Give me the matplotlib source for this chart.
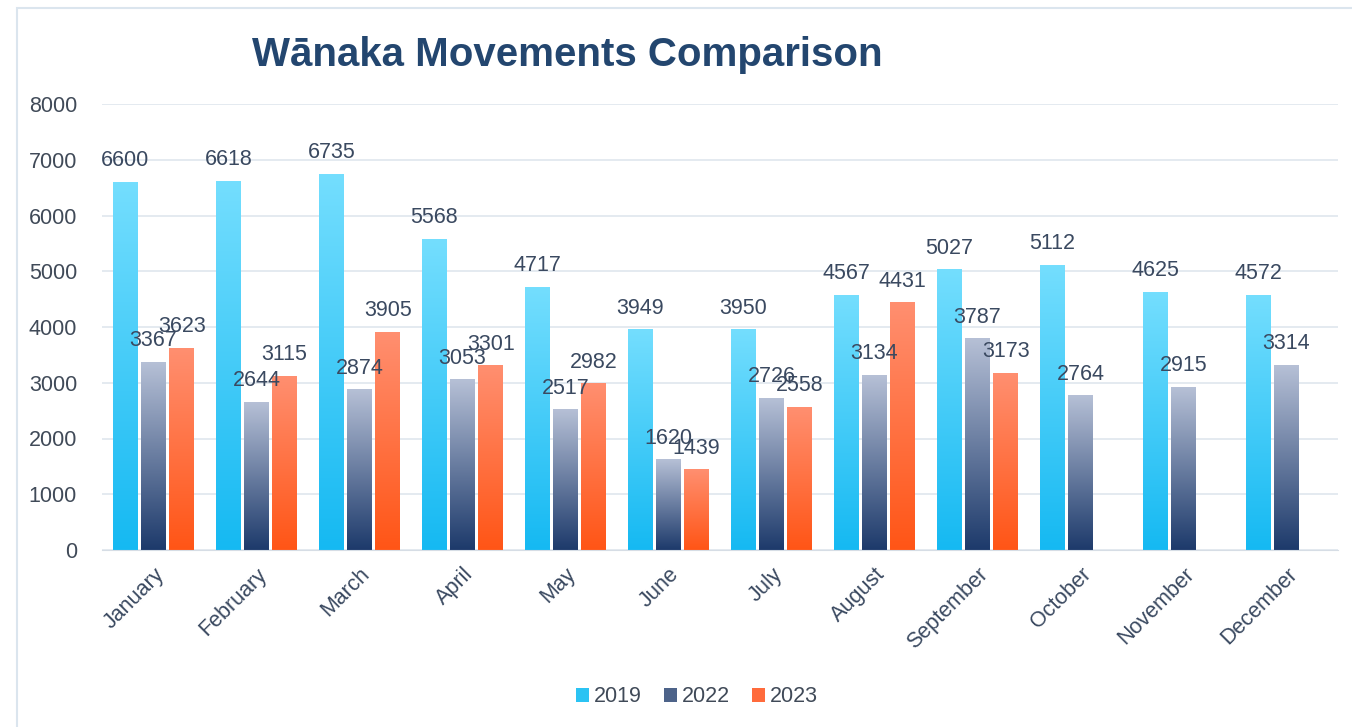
import numpy as np
import matplotlib
matplotlib.use("Agg")
import matplotlib.pyplot as plt
from matplotlib.colors import LinearSegmentedColormap
from matplotlib.patches import Rectangle, Patch

months = ["January", "February", "March", "April", "May", "June", "July",
          "August", "September", "October", "November", "December"]
years = ["2019", "2022", "2023"]
v2019 = [6600, 6618, 6735, 5568, 4717, 3949, 3950, 4567, 5027, 5112, 4625, 4572]
v2022 = [3367, 2644, 2874, 3053, 2517, 1620, 2726, 3134, 3787, 2764, 2915, 3314]
v2023 = [3623, 3115, 3905, 3301, 2982, 1439, 2558, 4431, 3173, None, None, None]
yticks = [0, 1000, 2000, 3000, 4000, 5000, 6000, 7000, 8000]

series = [v2019, v2022, v2023]
grads = [("#15b9f2", "#74defe"), ("#1d3a6b", "#b6c0d6"), ("#ff5516", "#ff8f70")]
legend_cols = ["#2bc3f3", "#4d6389", "#ff6b3c"]

plt.rcParams["font.family"] = ["Liberation Sans", "DejaVu Sans"]
fig = plt.figure(figsize=(13.52, 7.27), dpi=100)
ax = fig.add_axes([102 / 1352, 1 - 550 / 727, (1338 - 102) / 1352, (550 - 104) / 727])

x = np.arange(len(months))
w = 0.24
offs = [-0.273, 0.0, 0.273]
grad = np.linspace(0, 1, 256).reshape(-1, 1)
txtc = "#3a4960"
for s, vals in enumerate(series):
    cmap = LinearSegmentedColormap.from_list("g%d" % s, list(grads[s]))
    for i, v in enumerate(vals):
        if v is None:
            continue
        b = ax.bar(x[i] + offs[s], v, width=w, facecolor="none", edgecolor="none")[0]
        ax.imshow(grad, cmap=cmap, origin="lower", aspect="auto",
                  extent=[b.get_x(), b.get_x() + b.get_width(), 0, v], zorder=2)
        ax.annotate(str(v), (x[i] + offs[s], v), xytext=(0, 8), textcoords="offset points",
                    ha="center", va="bottom", fontsize=15.5, color=txtc, zorder=4)

ax.set_xlim(-0.5, len(months) - 0.5)
ax.set_ylim(0, 8000)
ax.set_yticks(yticks)
ax.set_yticklabels([str(t) for t in yticks], fontsize=15.5, color="#404a58")
ax.set_xticks(x)
ax.set_xticklabels(months, rotation=45, ha="right", va="top", rotation_mode="anchor",
                   fontsize=15.5, color="#3a4960")
ax.tick_params(axis="both", length=0)
ax.tick_params(axis="y", pad=18)
ax.tick_params(axis="x", pad=10)
for sp in ["top", "right", "left"]:
    ax.spines[sp].set_visible(False)
ax.spines["bottom"].set_color("#d6dde5")
ax.grid(axis="y", color="#dfe6ee", linewidth=1.2, zorder=0)
ax.set_axisbelow(True)

fig.text(567 / 1352, 1 - 55 / 727, "Wānaka Movements Comparison", ha="center", va="center",
         fontsize=29, fontweight="bold", color="#23466f")

handles = [Patch(facecolor=c, edgecolor="none") for c in legend_cols]
fig.legend(handles, years, loc="center", bbox_to_anchor=(697 / 1352, 1 - 697 / 727), ncol=3,
           frameon=False, fontsize=15.5, handlelength=0.6, handleheight=0.6,
           handletextpad=0.25, columnspacing=1.0, labelcolor="#404a58")

fig.patches.append(Rectangle((17 / 1352, -0.05), 1.2, 1 - 8 / 727 + 0.05, transform=fig.transFigure,
                             fill=False, edgecolor="#dbe5ee", linewidth=1.5))

fig.savefig("out.png", dpi=100)
